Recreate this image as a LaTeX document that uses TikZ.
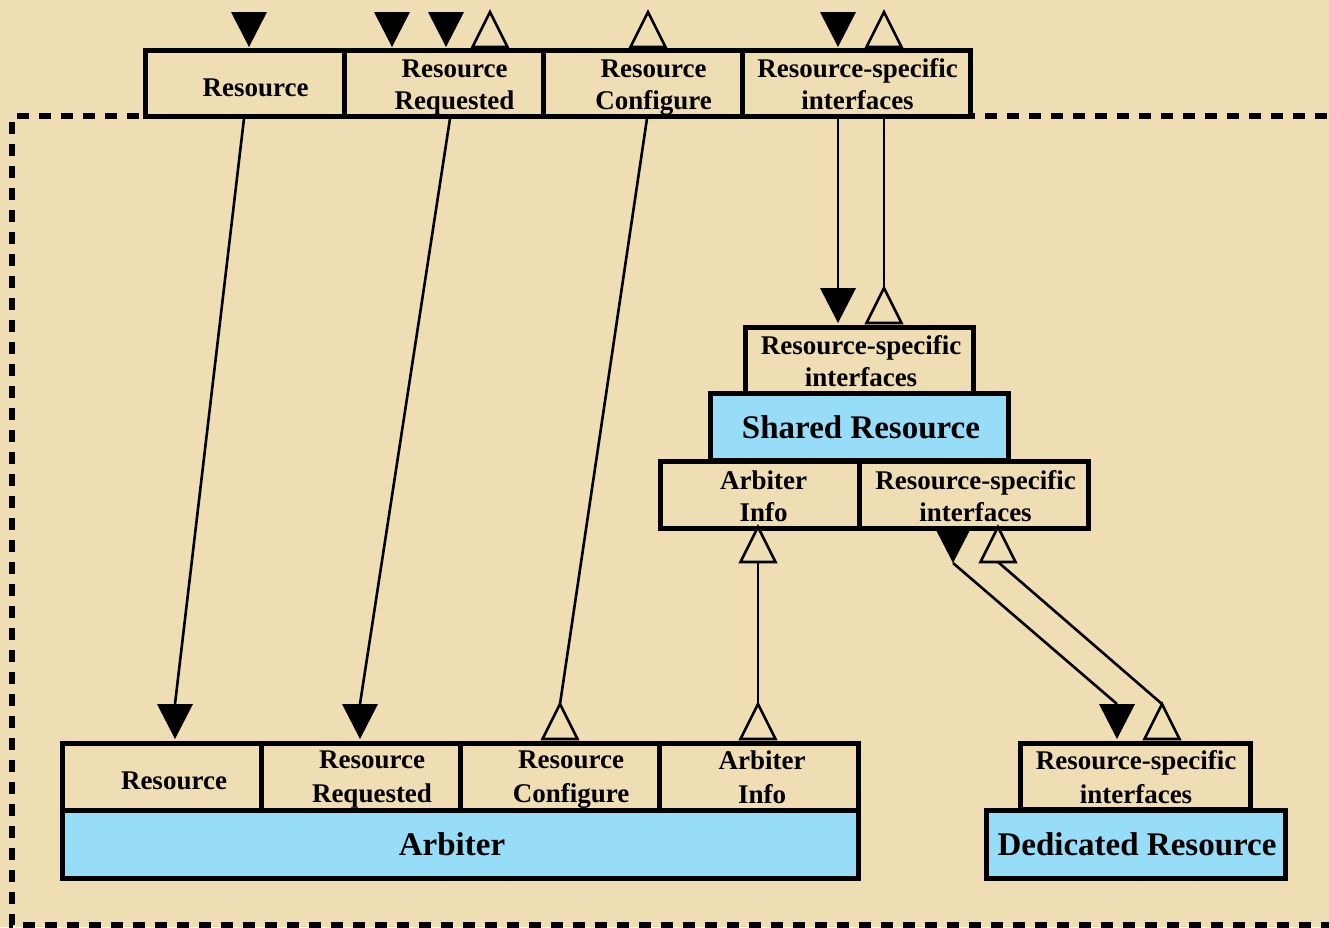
\documentclass[tikz,border=0pt]{standalone}
\usepackage{fontspec}
\setmainfont{Liberation Serif}
\usetikzlibrary{calc}
\definecolor{parch}{HTML}{EFDDB3}
\definecolor{skyfill}{HTML}{97DDF7}
\begin{document}
\begin{tikzpicture}[x=1pt,y=-1pt,
  box/.style={draw, line width=5pt, fill=parch, inner sep=0pt, minimum height=66pt},
  core/.style={box, fill=skyfill, minimum height=67pt},
  lbl/.style={inner sep=0pt, align=center, font=\fontsize{27}{32}\selectfont\bfseries},
  lblwide/.style={lbl, font=\fontsize{27}{34}\selectfont\bfseries},
  title/.style={inner sep=0pt, font=\fontsize{33}{38}\selectfont\bfseries},
  conn/.style={line width=2.6pt},
  frame/.style={line width=5.5pt, dash pattern=on 12pt off 10pt},
  tipdown/.pic={
    \fill (-18,-35) -- (18,-35) -- (0,0) -- cycle;
    \coordinate (-base) at (0,-35);
    \coordinate (-tip) at (0,0);},
  tipup/.pic={
    \draw[line width=2.6pt, fill=parch, line join=miter] (-17.5,0) -- (17.5,0) -- (0,-35) -- cycle;
    \coordinate (-apex) at (0,-35);
    \coordinate (-base) at (0,0);},
]
\useasboundingbox (0,0) rectangle (1329,927);
\fill[parch] (0,0) rectangle (1329,927);
\clip (0,0) rectangle (1329,927);

% component boundary
\draw[frame] (17,116) -- (1340,116);
\draw[frame] (12,122) -- (12,925) -- (1340,925);

% exported interfaces
\node[box, minimum width=199pt] (tRes) at (244.5,83) {};
\node[box, minimum width=199pt] (tReq) at (443.5,83) {};
\node[box, minimum width=199pt] (tCfg) at (642.5,83) {};
\node[box, minimum width=228pt] (tRsi) at (856,83) {};
\node[lbl] (tResT) at ($(tRes)+(11,4.5)$) {Resource};
\node[lbl] (tReqT) at ($(tReq)+(11,5)$) {Resource\\Requested};
\node[lbl] (tCfgT) at ($(tCfg)+(11,5)$) {Resource\\Configure};
\node[lbl] (tRsiT) at ($(tRsi)+(1.5,1)$) {Resource-specific\\interfaces};

% shared resource
\node[box, minimum width=228pt] (sRsi) at (859,360) {};
\node[core, minimum width=298pt] (shared) at (859,426.5) {};
\node[box, minimum width=199pt, minimum height=67pt] (sArb) at (759.5,494.5) {};
\node[box, minimum width=229pt, minimum height=67pt] (sRsi2) at (973.5,494.5) {};
\node[lbl] (sRsiT) at ($(sRsi)+(2,1)$) {Resource-specific\\interfaces};
\node[title] (sharedT) at ($(shared)+(2,1)$) {Shared Resource};
\node[lbl] (sArbT) at ($(sArb)+(4,2)$) {Arbiter\\Info};
\node[lbl] (sRsi2T) at ($(sRsi2)+(2,2)$) {Resource-specific\\interfaces};

% arbiter
\node[box, minimum width=199pt, minimum height=67pt] (aRes) at (161.5,776.5) {};
\node[box, minimum width=199pt, minimum height=67pt] (aReq) at (360.5,776.5) {};
\node[box, minimum width=199pt, minimum height=67pt] (aCfg) at (559.5,776.5) {};
\node[box, minimum width=199pt, minimum height=67pt] (aArb) at (758.5,776.5) {};
\node[core, minimum width=796pt, minimum height=68pt] (arbiter) at (460,844) {};
\node[lbl] (aResT) at ($(aRes)+(12.5,4)$) {Resource};
\node[lblwide] (aReqT) at ($(aReq)+(11.5,3)$) {Resource\\Requested};
\node[lblwide] (aCfgT) at ($(aCfg)+(11.5,3)$) {Resource\\Configure};
\node[lblwide] (aArbT) at ($(aArb)+(3.5,1)$) {Arbiter\\Info};
\node[title] (arbiterT) at ($(arbiter)+(-8,0)$) {Arbiter};

% dedicated resource
\node[box, minimum width=230pt] (dRsi) at (1135,776) {};
\node[core, minimum width=299pt, minimum height=68pt] (dedicated) at (1135.5,844) {};
\node[lblwide] (dRsiT) at ($(dRsi)+(1,1)$) {Resource-specific\\interfaces};
\node[title] (dedicatedT) at ($(dedicated)+(1.5,0)$) {Dedicated Resource};

% interface symbols on the outer component
\pic (i1) at (249,47) {tipdown};
\pic (i2) at (392,47) {tipdown};
\pic (i3) at (446,47) {tipdown};
\pic (o1) at (490,47) {tipup};
\pic (o2) at (648,47) {tipup};
\pic (i4) at (838,47) {tipdown};
\pic (o3) at (884,47) {tipup};

% interface symbols on the shared resource
\pic (sIn) at (838,323) {tipdown};
\pic (sOut) at (884,323) {tipup};
\pic (sInfo) at (758,562) {tipup};
\pic (sProv) at (953,563) {tipdown};
\pic (sUse) at (998,562) {tipup};

% interface symbols on the arbiter and dedicated resource
\pic (aIn1) at (175,739) {tipdown};
\pic (aIn2) at (360,739) {tipdown};
\pic (aCfgIn) at (560,739) {tipup};
\pic (aInfo) at (758,739) {tipup};
\pic (dIn) at (1117,739) {tipdown};
\pic (dUse) at (1162,739) {tipup};

% wiring
\draw[conn] ([xshift=-0.5pt]tRes.south) -- (aIn1-base);
\draw[conn] ([xshift=6.5pt]tReq.south) -- (aIn2-base);
\draw[conn] ([xshift=4.5pt]tCfg.south) -- (aCfgIn-apex);
\draw[conn] (tRsi.south -| sIn-base) -- (sIn-base);
\draw[conn] (tRsi.south -| sOut-apex) -- (sOut-apex);
\draw[conn] (sInfo-base) -- (aInfo-apex);
\draw[conn] (sProv-tip) -- (dIn-base);
\draw[conn] (sUse-base) -- (dUse-apex);
\end{tikzpicture}
\end{document}
